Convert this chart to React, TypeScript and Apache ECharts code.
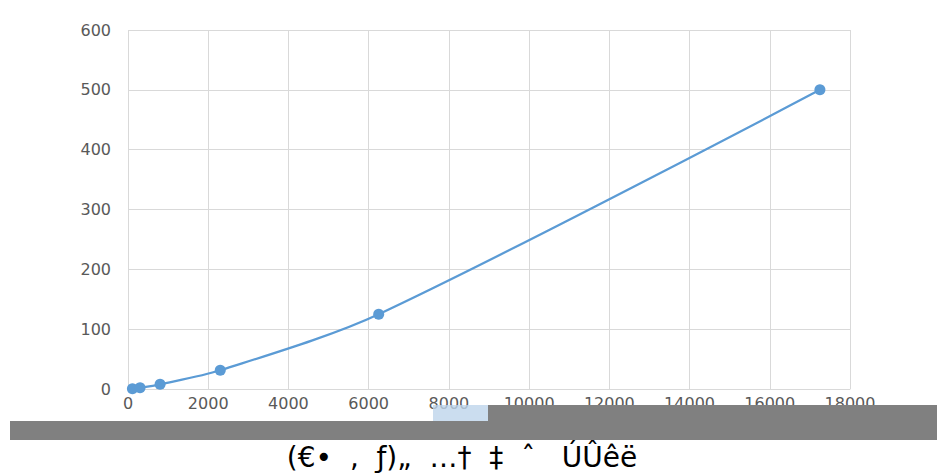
import React, { useEffect, useRef } from "react";
import * as echarts from "echarts";

const xValues = [110, 300, 800, 2300, 6250, 17250];
const yValues = [0.49, 1.95, 7.8, 31.25, 125, 500];
const xTicks = [0, 2000, 4000, 6000, 8000, 10000, 12000, 14000, 16000, 18000];
const yTicks = [0, 100, 200, 300, 400, 500, 600];
const caption = "(€•  ‚  ƒ)„  …†  ‡  ˆ   ÚÛêë";

export default function App() {
  const ref = useRef<HTMLDivElement>(null);
  useEffect(() => {
    if (!ref.current) return;
    const chart = echarts.init(ref.current, undefined, { renderer: "svg" });
    const labelFont = { color: "#595959", fontSize: 16, fontFamily: "DejaVu Sans" };
    chart.setOption({
      animation: false,
      backgroundColor: "#ffffff",
      grid: { left: 128, right: 87, top: 30, bottom: 85, containLabel: false },
      xAxis: {
        type: "value",
        min: xTicks[0],
        max: xTicks[xTicks.length - 1],
        interval: 2000,
        axisLine: { show: true, lineStyle: { color: "#d9d9d9", width: 1 } },
        axisTick: { show: false },
        splitLine: { show: true, lineStyle: { color: "#d9d9d9", width: 1 } },
        axisLabel: { ...labelFont, margin: 6, formatter: (v: number) => String(v) },
      },
      yAxis: {
        type: "value",
        min: yTicks[0],
        max: yTicks[yTicks.length - 1],
        interval: 100,
        axisLine: { show: false },
        axisTick: { show: false },
        splitLine: { show: true, lineStyle: { color: "#d9d9d9", width: 1 } },
        axisLabel: { ...labelFont, margin: 17, formatter: (v: number) => String(v) },
      },
      series: [
        {
          type: "line",
          smooth: 0.3,
          data: xValues.map((x, i) => [x, yValues[i]]),
          symbol: "circle",
          symbolSize: 11,
          lineStyle: { color: "#5b9bd5", width: 2.25 },
          itemStyle: { color: "#5b9bd5" },
          z: 3,
        },
      ],
      graphic: [
        {
          type: "rect",
          z: 100,
          shape: { x: 10, y: 421, width: 927, height: 19 },
          style: { fill: "#808080" },
        },
        {
          type: "rect",
          z: 100,
          shape: { x: 488, y: 405, width: 449, height: 16 },
          style: { fill: "#808080" },
        },
        {
          type: "rect",
          z: 100,
          shape: { x: 433, y: 405, width: 55, height: 16 },
          style: { fill: "rgba(190,212,235,0.8)" },
        },
        {
          type: "text",
          z: 100,
          x: 462,
          y: 457,
          style: {
            text: caption,
            fill: "#000000",
            font: "28px 'DejaVu Sans'",
            align: "center",
            verticalAlign: "middle",
          },
        },
      ],
    });
    return () => chart.dispose();
  }, []);
  return (
    <div
      ref={ref}
      style={{ position: "fixed", left: 0, top: 0, width: 937, height: 474 }}
    />
  );
}
